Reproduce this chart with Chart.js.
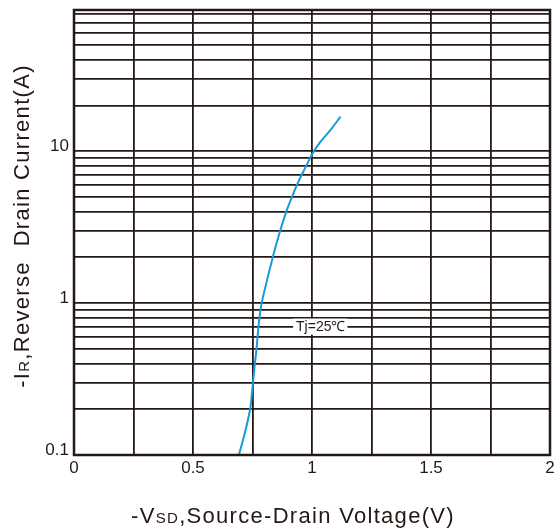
<!DOCTYPE html>
<html>
<head>
<meta charset="utf-8">
<script src="https://cdn.jsdelivr.net/npm/chart.js@4.4.1/dist/chart.umd.min.js"></script>
<style>
  html, body { margin: 0; padding: 0; background: #fff; }
  #wrap { width: 555px; height: 528px; position: relative; }
</style>
</head>
<body>
<div id="wrap"><canvas id="grafico"></canvas></div>
<script>
// curva Tj=25C
const voltaje   = [0.693, 0.718, 0.74, 0.747, 0.752, 0.76, 0.767, 0.775, 0.785, 0.797, 0.836, 0.865, 0.892, 0.916, 0.938, 0.959, 0.98, 1.001, 1.035, 1.078, 1.12];
const corriente = [0.1, 0.14, 0.2, 0.25, 0.3, 0.4, 0.5, 0.7, 0.93, 1.15, 2.03, 2.95, 4.0, 5.0, 6.06, 7.1, 8.25, 9.6, 11.5, 13.8, 16.9];

// ticks / grilla
const ticksY = [0.1, 0.2, 0.3, 0.4, 0.5, 0.6, 0.7, 0.8, 0.9,
                1, 2, 3, 4, 5, 6, 7, 8, 9,
                10, 20, 30, 40, 50, 60, 70, 80];
const etiquetasY = [0.1, 1, 10];
const etiquetasX = [0, 0.5, 1, 1.5, 2];

const colorGrilla = '#231815';
const colorCurva = '#1a9ad9';
const fuente = '"Liberation Sans", Arial, sans-serif';

/*
* Titulos de ejes, marco y etiqueta Tj
*/
const dibujoExtra = {
    id: 'dibujoExtra',
    afterDraw(chart) {
        const ctx = chart.ctx;
        const area = chart.chartArea;
        const sx = chart.scales.x, sy = chart.scales.y;
        ctx.save();
        // marco
        ctx.strokeStyle = colorGrilla;
        ctx.lineWidth = 2.5;
        ctx.strokeRect(area.left, area.top, area.right - area.left, area.bottom - area.top);

        // etiqueta Tj=25C
        ctx.font = '14px ' + fuente;
        ctx.textBaseline = 'middle';
        const tx = sx.getPixelForValue(0.933), ty = sy.getPixelForValue(0.7);
        const texto = 'Tj=25\u2103';
        const w = ctx.measureText(texto).width;
        ctx.fillStyle = '#fff';
        ctx.fillRect(tx - 3, ty - 8, w + 5, 16);
        ctx.fillStyle = colorGrilla;
        ctx.textAlign = 'left';
        ctx.fillText(texto, tx, ty + 1);

        // titulo eje x
        ctx.letterSpacing = '1.3px';
        const partesX = [['-V', 22], ['SD', 15], [',Source-Drain Voltage(V)', 22]];
        dibujarPartes(ctx, partesX, 293, 515);

        // titulo eje y
        ctx.translate(21, 226);
        ctx.rotate(-Math.PI / 2);
        const partesY = [['-I', 22], ['R', 15], [',Reverse  Drain Current(A)', 22]];
        dibujarPartes(ctx, partesY, 0, 0);
        ctx.restore();
    }
};

function dibujarPartes(ctx, partes, cx, cy) {
    let total = 0;
    partes.forEach(p => {
        ctx.font = p[1] + 'px ' + fuente;
        total += ctx.measureText(p[0]).width;
    });
    let x = cx - total / 2;
    ctx.textAlign = 'left';
    ctx.textBaseline = 'alphabetic';
    ctx.fillStyle = colorGrilla;
    partes.forEach(p => {
        ctx.font = p[1] + 'px ' + fuente;
        ctx.fillText(p[0], x, cy + 8);
        x += ctx.measureText(p[0]).width;
    });
}

var ctx1 = document.getElementById('grafico').getContext('2d');
var grafico = new Chart(ctx1, {
    type: 'line',
    data: {
        datasets: [{
            label: 'Tj=25\u2103',
            data: voltaje.map((v, i) => ({x: v, y: corriente[i]})),
            borderColor: colorCurva,
            borderWidth: 2,
            pointRadius: 0,
            fill: false,
            tension: 0.4
        }]
    },
    options: {
        responsive: true,
        maintainAspectRatio: false,
        animation: false,
        layout: { padding: { top: 10, right: 5, left: 0, bottom: 0 } },
        plugins: { legend: { display: false }, tooltip: { enabled: false } },
        scales: {
            x: {
                type: 'linear',
                min: 0, max: 2,
                afterFit(scale) { scale.height = 73; scale.paddingRight = 0; scale.paddingLeft = 0; },
                border: { display: false },
                grid: { color: colorGrilla, lineWidth: 1.8, drawTicks: false },
                ticks: {
                    stepSize: 0.25,
                    autoSkip: false,
                    maxRotation: 0,
                    padding: 3,
                    color: colorGrilla,
                    font: { family: fuente, size: 17 },
                    callback: v => etiquetasX.includes(v) ? String(v) : ''
                }
            },
            y: {
                type: 'logarithmic',
                min: 0.1, max: 85,
                afterFit(scale) { scale.width = 74; scale.paddingTop = 0; scale.paddingBottom = 0; },
                afterBuildTicks(scale) { scale.ticks = ticksY.map(v => ({value: v})); },
                border: { display: false },
                grid: { color: colorGrilla, lineWidth: 1.8, drawTicks: false },
                ticks: {
                    autoSkip: false,
                    padding: 5,
                    labelOffset: -5,
                    color: colorGrilla,
                    font: { family: fuente, size: 17 },
                    callback: v => etiquetasY.includes(v) ? String(v) : ''
                }
            }
        }
    },
    plugins: [dibujoExtra]
});
</script>
</body>
</html>
